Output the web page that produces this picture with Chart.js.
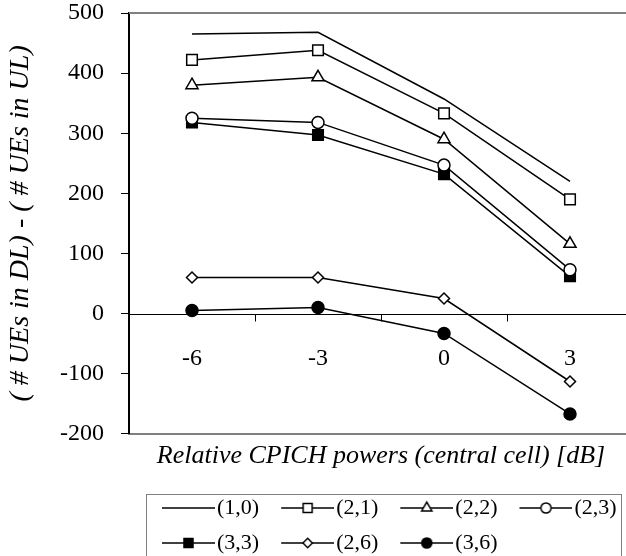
<!DOCTYPE html>
<html>
<head>
<meta charset="utf-8">
<script src="https://cdn.jsdelivr.net/npm/chart.js@4.4.1/dist/chart.umd.min.js"></script>
<style>
  html, body { margin: 0; padding: 0; background: #fff; overflow: hidden; }
  #wrap { width: 626px; height: 556px; overflow: hidden; }
  canvas { display: block; }
</style>
</head>
<body>
<div id="wrap"><canvas id="ueChart" width="634" height="556"></canvas></div>
<script>
// categories (relative CPICH power, dB)
const xLabels = ['-6', '-3', '0', '3'];
const seriesNames = ['(1,0)', '(2,1)', '(2,2)', '(2,3)', '(3,3)', '(2,6)', '(3,6)'];

// (# UEs in DL) - (# UEs in UL)
const s10 = [465, 468, 357, 220];
const s21 = [422, 438, 333, 190];
const s22 = [380, 393, 290, 116];
const s23 = [325, 318, 247, 73];
const s33 = [318, 297, 232, 62];
const s26 = [60, 60, 25, -113];
const s36 = [5, 10, -33, -167];
const seriesValues = [s10, s21, s22, s23, s33, s26, s36];

// y axis range and step
const yMin = -200;
const yMax = 500;
const yStep = 100;

// marker look for each series
const markers = [
  { style: 'circle', radius: 0, fill: '#fff' },
  { style: 'rect', radius: 7.5, fill: '#fff' },
  { style: 'triangle', radius: 7, fill: '#fff' },
  { style: 'circle', radius: 6, fill: '#fff' },
  { style: 'rect', radius: 7.5, fill: '#000' },
  { style: 'rectRot', radius: 5.5, fill: '#fff' },
  { style: 'circle', radius: 6, fill: '#000' }
];

const serif = '"Liberation Serif", "Times New Roman", serif';

// legend icon: short line with the marker in the middle
function makeIcon(m) {
  const c = document.createElement('canvas');
  c.width = 71;
  c.height = 20;
  const g = c.getContext('2d');
  g.strokeStyle = '#000';
  g.lineWidth = 1.5;
  g.beginPath();
  g.moveTo(18, 10);
  g.lineTo(71, 10);
  g.stroke();
  if (m.radius > 0) {
    g.fillStyle = m.fill;
    Chart.helpers.drawPoint(g, { pointStyle: m.style, radius: m.radius * 0.85, rotation: 0, borderWidth: 1.5 }, 44.5, 10);
  }
  return c;
}
const icons = markers.map(makeIcon);

// zero line with its ticks and category labels, top frame line
const zeroAxis = {
  id: 'zeroAxis',
  beforeDatasetsDraw(chart) {
    const { ctx, chartArea: a, scales: { x, y } } = chart;
    const y0 = Math.round(y.getPixelForValue(0)) + 0.5;
    const half = (x.getPixelForValue(1) - x.getPixelForValue(0)) / 2;
    ctx.save();
    ctx.strokeStyle = '#808080';
    ctx.lineWidth = 2;
    ctx.beginPath();
    ctx.moveTo(a.left, a.top);
    ctx.lineTo(a.right, a.top);
    ctx.stroke();

    ctx.strokeStyle = '#000';
    ctx.lineWidth = 1;
    ctx.beginPath();
    ctx.moveTo(a.left, y0);
    ctx.lineTo(a.right, y0);
    xLabels.forEach((lab, i) => {
      const px = Math.round(x.getPixelForValue(i) + half) + 0.5;
      ctx.moveTo(px, y0);
      ctx.lineTo(px, y0 + 7);
    });
    ctx.stroke();

    ctx.fillStyle = '#000';
    ctx.font = '24px ' + serif;
    ctx.textAlign = 'center';
    ctx.textBaseline = 'middle';
    xLabels.forEach((lab, i) => {
      ctx.fillText(lab, x.getPixelForValue(i), y0 + 44);
    });
    ctx.restore();
  }
};

// legend sits a bit right of the plot's left edge, inside a grey box
const legendBox = {
  id: 'legendBox',
  afterLayout(chart) {
    chart.legend.left += 11;
    chart.legend.right += 11;
  },
  afterDraw(chart) {
    const lg = chart.legend;
    const ctx = chart.ctx;
    ctx.save();
    ctx.strokeStyle = '#808080';
    ctx.lineWidth = 1;
    ctx.strokeRect(Math.round(lg.left + 6) + 0.5, Math.round(lg.top + 10) + 0.5, 475, 120);
    ctx.restore();
  }
};

const ctx = document.getElementById('ueChart').getContext('2d');
const chart = new Chart(ctx, {
  type: 'line',
  data: {
    labels: xLabels,
    datasets: seriesValues.map((vals, i) => ({
      label: seriesNames[i],
      data: vals,
      borderColor: '#000',
      borderWidth: 1.5,
      tension: 0,
      fill: false,
      pointStyle: markers[i].style,
      pointRadius: markers[i].radius,
      pointHoverRadius: markers[i].radius,
      pointBackgroundColor: markers[i].fill,
      pointBorderColor: '#000',
      pointBorderWidth: 1.5
    }))
  },
  options: {
    responsive: false,
    animation: false,
    layout: {
      autoPadding: false,
      // plot runs past the right and bottom edges of the picture
      padding: { top: 13, left: 0, right: 1, bottom: -8 }
    },
    plugins: {
      tooltip: { enabled: false },
      legend: {
        position: 'bottom',
        align: 'start',
        fullSize: false,
        labels: {
          usePointStyle: true,
          pointStyleWidth: 53,
          padding: 13,
          color: '#000',
          font: { family: serif, size: 22 },
          generateLabels: function(chart) {
            const items = Chart.defaults.plugins.legend.labels.generateLabels(chart);
            items.forEach((item, i) => {
              item.pointStyle = icons[i];
            });
            return items;
          }
        }
      }
    },
    scales: {
      x: {
        type: 'category',
        offset: true,
        grid: { display: false, drawTicks: false },
        border: { display: true, color: '#808080', width: 2 },
        ticks: { display: false },
        title: {
          display: true,
          text: 'Relative CPICH powers (central cell) [dB]',
          color: '#000',
          font: { family: serif, size: 26, style: 'italic' },
          padding: { top: 7, bottom: 12 }
        }
      },
      y: {
        min: yMin,
        max: yMax,
        afterFit: function(scale) {
          scale.width = 129;
          scale.paddingTop = 0;
          scale.paddingBottom = 0;
        },
        grid: {
          drawOnChartArea: false,
          tickLength: 8,
          color: '#000',
          tickColor: '#000'
        },
        border: { display: true, color: '#000', width: 2 },
        ticks: {
          stepSize: yStep,
          padding: 17,
          color: '#000',
          font: { family: serif, size: 24, lineHeight: 1 }
        },
        title: {
          display: true,
          text: '( # UEs in DL) - ( # UEs in UL)',
          color: '#000',
          font: { family: serif, size: 28, style: 'italic' },
          padding: { top: 4, bottom: 4 }
        }
      }
    }
  },
  plugins: [zeroAxis, legendBox]
});
</script>
</body>
</html>
